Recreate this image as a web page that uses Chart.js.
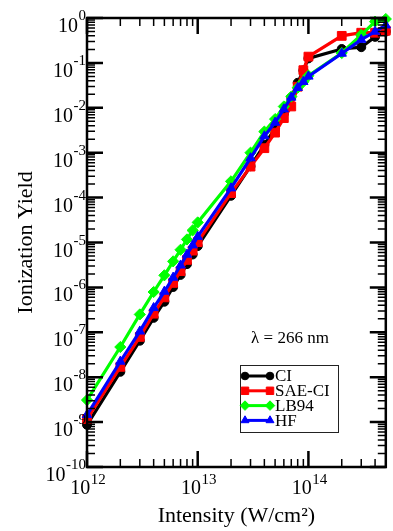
<!DOCTYPE html>
<html><head><meta charset="utf-8">
<script src="https://cdn.jsdelivr.net/npm/chart.js@4"></script>
<style>html,body{margin:0;padding:0;background:#fff;}#wrap{width:393px;height:531px;}</style>
</head><body><div id="wrap"><canvas id="c" width="393" height="531"></canvas></div>
<script>
// Laser intensities (W/cm^2)
const intensities = [1e12,2e12,3e12,4e12,5e12,6e12,7e12,8e12,9e12,1e13,2e13,3e13,4e13,5e13,6e13,7e13,8e13,9e13,1e14,2e14,3e14,4e14,5e14];
const ciYield   = [8.7e-10,1.32e-8,6.5e-8,2.1e-7,4.8e-7,1.02e-6,1.9e-6,3.3e-6,5.4e-6,8.3e-6,1.1e-4,5.0e-4,1.5e-3,3.5e-3,7.4e-3,1.7e-2,3.6e-2,6.8e-2,0.126,0.204,0.224,0.38,0.50];
const saeYield  = [1.17e-9,1.7e-8,7.9e-8,2.6e-7,6.0e-7,1.26e-6,2.3e-6,4.1e-6,6.6e-6,1.02e-5,1.26e-4,4.9e-4,1.26e-3,2.8e-3,5.9e-3,1.07e-2,2.95e-2,6.9e-2,0.138,0.40,0.47,0.47,0.52];
const lb94Yield = [3.1e-9,4.7e-8,2.5e-7,7.9e-7,1.86e-6,3.8e-6,6.9e-6,1.17e-5,1.86e-5,2.8e-5,2.3e-4,1.0e-3,2.95e-3,5.6e-3,1.07e-2,1.78e-2,2.8e-2,3.8e-2,5.2e-2,0.166,0.42,0.83,0.95];
const hfYield   = [1.45e-9,2.24e-8,1.05e-7,3.5e-7,8.1e-7,1.66e-6,3.1e-6,5.4e-6,8.7e-6,1.35e-5,1.62e-4,7.6e-4,2.34e-3,4.7e-3,9.3e-3,1.7e-2,2.8e-2,3.8e-2,5.0e-2,0.162,0.33,0.50,0.69];
const seriesNames = ['CI','SAE-CI','LB94','HF'];
const xTickExponents = [12,13,14];
const yTickExponents = [0,-1,-2,-3,-4,-5,-6,-7,-8,-9,-10];
const annotationText = 'λ = 266 nm';

const FONT = '"Liberation Serif", "Times New Roman", serif';
const styles = [
  {color:'#000000', pointStyle:'circle',   radius:4.5, order:3},
  {color:'#ff0000', pointStyle:'rect',     radius:6.2, order:2},
  {color:'#00ff00', pointStyle:'rectRot',  radius:5.6, order:1},
  {color:'#0000ff', pointStyle:'triangle', radius:5.4, order:0}
];
const allSeries = [ciYield, saeYield, lb94Yield, hfYield];

const datasets = allSeries.map((vals, i) => ({
  label: seriesNames[i],
  data: intensities.map((x, j) => ({x: x, y: vals[j]})),
  borderColor: styles[i].color,
  backgroundColor: styles[i].color,
  pointBackgroundColor: styles[i].color,
  pointBorderColor: styles[i].color,
  pointStyle: styles[i].pointStyle,
  pointRadius: styles[i].radius,
  pointBorderWidth: 1,
  borderWidth: 3.2,
  tension: 0,
  order: styles[i].order,
  clip: false
}));

function drawPow(ctx, exp, x, yBase, ySup, mode) {
  const sup = String(exp);
  ctx.font = '20px ' + FONT;
  const wb = ctx.measureText('10').width;
  ctx.font = '15px ' + FONT;
  const ws = ctx.measureText(sup).width;
  let start;
  if (mode === 'right') start = x - ws - wb - 0.5;
  else start = x - (wb + ws + 0.5) / 2;
  ctx.textAlign = 'left';
  ctx.textBaseline = 'alphabetic';
  ctx.fillStyle = '#000';
  ctx.font = '20px ' + FONT;
  ctx.fillText('10', start, yBase);
  ctx.font = '15px ' + FONT;
  ctx.fillText(sup, start + wb + 0.5, ySup);
}

const framePlugin = {
  id: 'framePlugin',
  afterDatasetsDraw(chart) {
    const ctx = chart.ctx;
    const a = chart.chartArea;
    const xs = chart.scales.x, ys = chart.scales.y;
    ctx.save();
    ctx.strokeStyle = '#000';
    ctx.lineWidth = 2.5;
    ctx.strokeRect(a.left, a.top, a.right - a.left, a.bottom - a.top);
    const MAJ = 16, MIN = 8;
    for (const e of yTickExponents) {
      const yp = ys.getPixelForValue(Math.pow(10, e));
      ctx.lineWidth = 2.5;
      ctx.beginPath();
      ctx.moveTo(a.left, yp); ctx.lineTo(a.left + MAJ, yp);
      ctx.moveTo(a.right, yp); ctx.lineTo(a.right - MAJ, yp);
      ctx.stroke();
      if (e < 0) {
        ctx.lineWidth = 1.5;
        ctx.beginPath();
        for (let k = 2; k <= 9; k++) {
          const ym = ys.getPixelForValue(k * Math.pow(10, e));
          ctx.moveTo(a.left, ym); ctx.lineTo(a.left + MIN, ym);
          ctx.moveTo(a.right, ym); ctx.lineTo(a.right - MIN, ym);
        }
        ctx.stroke();
      }
      drawPow(ctx, e, a.left - 1, yp + 14, yp + 2, 'right');
    }
    for (const e of xTickExponents) {
      const xp = xs.getPixelForValue(Math.pow(10, e));
      ctx.lineWidth = 2.5;
      ctx.beginPath();
      ctx.moveTo(xp, a.bottom); ctx.lineTo(xp, a.bottom - MAJ);
      ctx.moveTo(xp, a.top); ctx.lineTo(xp, a.top + MAJ);
      ctx.stroke();
      ctx.lineWidth = 1.5;
      ctx.beginPath();
      for (let k = 2; k <= 9; k++) {
        const v = k * Math.pow(10, e);
        if (v >= xs.max) break;
        const xm = xs.getPixelForValue(v);
        ctx.moveTo(xm, a.bottom); ctx.lineTo(xm, a.bottom - MIN);
        ctx.moveTo(xm, a.top); ctx.lineTo(xm, a.top + MIN);
      }
      ctx.stroke();
      drawPow(ctx, e, xp + 1, a.bottom + 27, a.bottom + 17, 'center');
    }
    ctx.fillStyle = '#000';
    ctx.font = '17px ' + FONT;
    ctx.textAlign = 'center';
    ctx.textBaseline = 'alphabetic';
    ctx.fillText(annotationText, a.left + 203, a.top + 325);
    const bx = a.left + 153, by = a.top + 347, bw = 98, bh = 67;
    ctx.fillStyle = '#fff';
    ctx.fillRect(bx, by, bw, bh);
    ctx.lineWidth = 1;
    ctx.strokeStyle = '#222';
    ctx.strokeRect(bx + 0.5, by + 0.5, bw, bh);
    chart.data.datasets.forEach((ds, i) => {
      const yy = by + 11 + i * 14.8;
      const x1 = bx + 5, x2 = bx + 30;
      ctx.strokeStyle = ds.borderColor;
      ctx.fillStyle = ds.borderColor;
      ctx.lineWidth = 3;
      ctx.beginPath(); ctx.moveTo(x1, yy); ctx.lineTo(x2, yy); ctx.stroke();
      ctx.lineWidth = 1;
      const opt = {pointStyle: ds.pointStyle, radius: ds.pointRadius * 0.85, borderWidth: 1, rotation: 0};
      Chart.helpers.drawPoint(ctx, opt, x1, yy);
      Chart.helpers.drawPoint(ctx, opt, x2, yy);
      ctx.fillStyle = '#000';
      ctx.font = '17px ' + FONT;
      ctx.textAlign = 'left';
      ctx.textBaseline = 'middle';
      ctx.fillText(ds.label, x2 + 5, yy + 1);
    });
    ctx.restore();
  }
};

new Chart(document.getElementById('c'), {
  type: 'line',
  data: { datasets: datasets },
  options: {
    responsive: false,
    devicePixelRatio: 1,
    animation: false,
    layout: { padding: { top: 18, right: 1, left: 0, bottom: 0 } },
    plugins: { legend: { display: false }, tooltip: { enabled: false } },
    scales: {
      x: {
        type: 'logarithmic', min: 1e12, max: 5e14,
        grid: { display: false }, border: { display: false },
        ticks: { display: false },
        title: { display: true, text: 'Intensity (W/cm²)', color: '#000', font: { family: FONT, size: 22 }, padding: { top: 0, bottom: 2 } },
        afterFit: (s) => { s.height = 64; }
      },
      y: {
        type: 'logarithmic', min: 1e-10, max: 1,
        grid: { display: false }, border: { display: false },
        ticks: { display: false },
        title: { display: true, text: 'Ionization Yield', color: '#000', font: { family: FONT, size: 22 }, padding: { top: 13, bottom: 0 } },
        afterFit: (s) => { s.width = 87; }
      }
    }
  },
  plugins: [framePlugin]
});
</script></body></html>
